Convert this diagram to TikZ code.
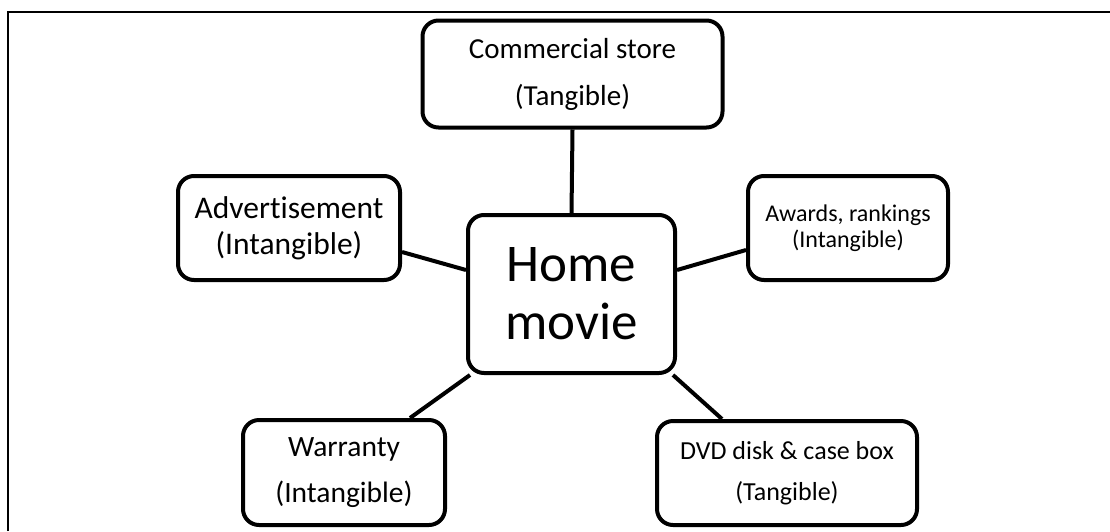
\documentclass[tikz,border=0pt]{standalone}
\usepackage{fontspec}
\setmainfont[Ligatures={NoCommon}]{Carlito}
\usetikzlibrary{calc}
\begin{document}
\begin{tikzpicture}[x=1pt,y=-1pt,
  box/.style={draw=black,line width=4pt,rounded corners=16pt,align=center,inner sep=0pt,fill=white},
  link/.style={draw=black,line width=4pt},
  frame/.style={draw=black,line width=2pt}]
\useasboundingbox (0,0) rectangle (1110,531);
\coordinate (ftl) at (8,12);
\coordinate (ftr) at (1110,12);
\coordinate (fbl) at (8,531);
\draw[frame] (fbl) -- (ftl) -- (ftr);
\node[box,minimum width=300pt,minimum height=107pt,font=\fontsize{29}{47}\selectfont] (cs) at (572.5,74) {Commercial store\\(Tangible)};
\node[box,minimum width=207pt,minimum height=158pt,font=\fontsize{53}{58}\selectfont] (hm) at (571.5,294) {Home\\movie};
\node[box,minimum width=222pt,minimum height=104pt,font=\fontsize{31.5}{36}\selectfont] (ad) at (289,228) {Advertisement\\(Intangible)};
\node[box,minimum width=200pt,minimum height=104pt,font=\fontsize{24}{26}\selectfont] (aw) at (848,228) {Awards, rankings\\(Intangible)};
\node[box,minimum width=202pt,minimum height=105pt,font=\fontsize{29.5}{46}\selectfont] (wa) at (344,472.5) {Warranty\\(Intangible)};
\node[box,minimum width=260pt,minimum height=104pt,font=\fontsize{26}{41}\selectfont] (dvd) at (787,473) {DVD disk \& case box\\(Tangible)};
\draw[link] (cs.south) -- (hm.north);
\draw[link] ($(ad.east)+(0,24)$) -- ($(hm.west)+(0,-24)$);
\draw[link] ($(aw.west)+(0,22)$) -- ($(hm.east)+(0,-24)$);
\draw[link] ($(wa.north)+(66,0)$) -- ($(hm.south west)+(4,0)$);
\draw[link] ($(dvd.north)+(-65,0)$) -- ($(hm.south east)+(-4,0)$);
\end{tikzpicture}
\end{document}
